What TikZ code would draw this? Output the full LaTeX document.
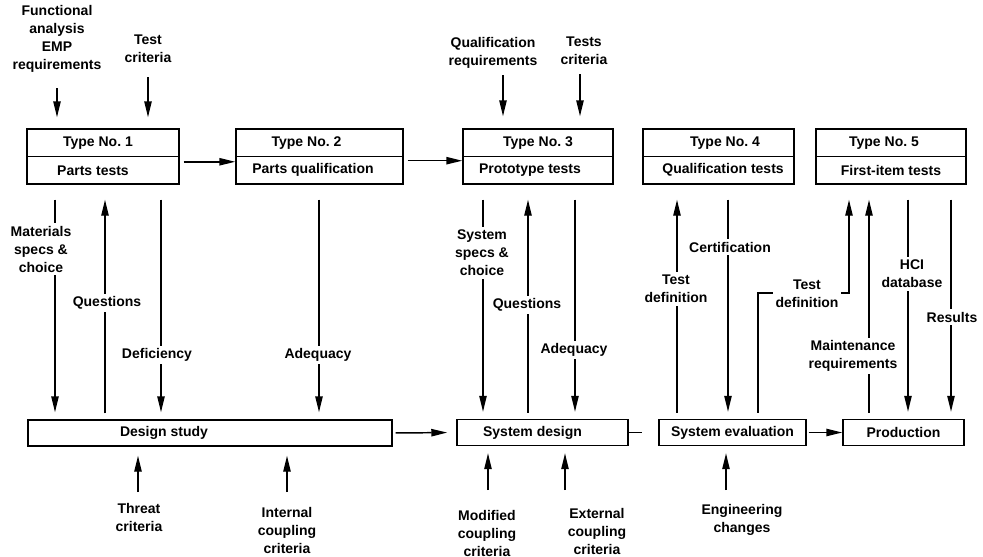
\documentclass[tikz,border=0pt]{standalone}
\usepackage{fontspec}
\setmainfont{Liberation Sans}
\usetikzlibrary{arrows.meta}
\begin{document}
\begin{tikzpicture}[x=0.75pt,y=-0.75pt,
  every node/.style={font=\bfseries\fontsize{10.5pt}{13.5pt}\selectfont, text=black},
  cell/.style={draw, line width=1.1pt, inner sep=0pt, minimum width=#1*0.75pt, minimum height=27.5*0.75pt},
  bcell/.style={draw, line width=1.1pt, inner sep=0pt, minimum width=#1*0.75pt, minimum height=26*0.75pt},
  lbl/.style={fill=white, align=center, inner sep=2pt},
  txt/.style={align=center, inner sep=1pt},
  conn/.style={line width=1.1pt},
  arr/.style={conn, -{Triangle[length=12pt,width=5.5pt]}},
  dn/.style={arr, shorten <=11.25pt, shorten >=5.25pt},
  up/.style={arr, shorten <=4.5pt, shorten >=11.25pt},
]
\useasboundingbox (0,0) rectangle (983,557);

% ---- top boxes ----
\node[cell=152, label={[xshift=-3.75pt]center:Type No.\ 1}] (t1h) at (103,142.75) {};
\node[cell=152, label={[xshift=-7.5pt]center:Parts tests}] (t1)  at (103,170.25) {};
\node[cell=167, label={[xshift=-9.75pt]center:Type No.\ 2}] (t2h) at (319.5,142.75) {};
\node[cell=167, label={[xshift=-4.9pt]center:Parts qualification}] (t2)  at (319.5,170.25) {};
\node[cell=150] (t3h) at (538,142.75) {Type No.\ 3};
\node[cell=150, label={[xshift=-6pt]center:Prototype tests}] (t3)  at (538,170.25) {};
\node[cell=151, label={[xshift=4.9pt]center:Type No.\ 4}] (t4h) at (718.5,142.75) {};
\node[cell=151, label={[xshift=3.4pt]center:Qualification tests}] (t4)  at (718.5,170.25) {};
\node[cell=150, label={[xshift=-5.25pt]center:Type No.\ 5}] (t5h) at (891,142.75) {};
\node[cell=150] (t5)  at (891,170.25) {First-item tests};

% ---- bottom boxes ----
\node[bcell=364, label={[xshift=-34.5pt]center:Design study}] (ds) at (210,433) {};
\node[bcell=171, label={[xshift=-7.5pt]center:System design}] (sd) at (542.5,432.5) {};
\node[bcell=147] (se) at (732.5,432.5) {System evaluation};
\node[bcell=121] (pr) at (903.5,432.5) {Production};

% ---- horizontal flow ----
\draw[arr, shorten <=3pt] ([yshift=-3.4pt]t1h.south east) -- ([yshift=-3.4pt]t2h.south west);
\draw[arr, shorten <=3pt] ([yshift=-2.6pt]t2h.south east) -- ([yshift=-2.6pt]t3h.south west);
\draw[arr, shorten <=2.25pt, shorten >=6.75pt] (ds.east) -- (sd.west);
\coordinate (sdx) at (642,432.5);
\draw[conn] (sd.east) -- (sdx);
\draw[arr, shorten <=1.5pt] (se.east) -- (pr.west);

% ---- column positions ----
\coordinate (c1) at (55,0);
\coordinate (c2) at (105,0);
\coordinate (c3) at (161,0);
\coordinate (c4) at (319,0);
\coordinate (c5) at (483,0);
\coordinate (c6) at (528,0);
\coordinate (c7) at (575,0);
\coordinate (c8) at (677,0);
\coordinate (c9) at (728,0);
\coordinate (c10) at (758,0);
\coordinate (c11) at (849,0);
\coordinate (c12) at (869,0);
\coordinate (c13) at (908,0);
\coordinate (c14) at (951,0);
\coordinate (tdk) at (0,293);

% ---- vertical connectors ----
\draw[dn] (t1.south -| c1) -- (ds.north -| c1);
\draw[up] (ds.north -| c2) -- (t1.south -| c2);
\draw[dn] (t1.south -| c3) -- (ds.north -| c3);
\draw[dn] (t2.south -| c4) -- (ds.north -| c4);
\draw[dn] (t3.south -| c5) -- (sd.north -| c5);
\draw[up] (sd.north -| c6) -- (t3.south -| c6);
\draw[dn] (t3.south -| c7) -- (sd.north -| c7);
\draw[up] (se.north -| c8) -- (t4.south -| c8);
\draw[dn] (t4.south -| c9) -- (se.north -| c9);
\draw[arr, shorten <=4.5pt, shorten >=11.25pt] (se.north -| c10) |- (c11 |- tdk) -- (t5.south -| c11);
\draw[up] (pr.north -| c12) -- (t5.south -| c12);
\draw[dn] (t5.south -| c13) -- (pr.north -| c13);
\draw[dn] (t5.south -| c14) -- (pr.north -| c14);

% ---- connector labels ----
\node[lbl] (lmat) at (41,249) {Materials\\specs \&\\choice};
\node[lbl] (lq1) at (107,303) {Questions};
\node[lbl] (ldef) at (157,355) {Deficiency};
\node[lbl] (lad1) at (318,355) {Adequacy};
\node[lbl] (lss) at (482,253) {System\\specs \&\\choice};
\node[lbl] (lq2) at (527,305) {Questions};
\node[lbl] (lad2) at (574,350) {Adequacy};
\node[lbl] (ltd1) at (676,289) {Test\\definition};
\node[lbl] (lcert) at (730,247) {Certification};
\node[lbl] (ltd2) at (807,294) {Test\\definition};
\node[lbl] (lmr) at (853,356) {Maintenance\\requirements};
\node[lbl] (lhci) at (912,274) {HCI\\database};
\node[lbl] (lres) at (952,317) {Results};

% ---- top inputs ----
\node[txt] (lfa) at (57,39) {Functional\\analysis\\EMP\\requirements};
\coordinate (fa0) at (57,88);
\draw[arr, shorten >=8.25pt] (fa0) -- (fa0 |- t1h.north);
\node[txt] (ltc1) at (148,49) {Test\\criteria};
\coordinate (tc1) at (148,77);
\draw[arr, shorten >=8.25pt] (tc1) -- (tc1 |- t1h.north);
\node[txt] (lqr) at (493,53) {Qualification\\requirements};
\coordinate (qr0) at (503,75);
\draw[arr, shorten >=9pt] (qr0) -- (qr0 |- t3h.north);
\node[txt] (ltc3) at (584,51) {Tests\\criteria};
\coordinate (tc3) at (580,74);
\draw[arr, shorten >=9pt] (tc3) -- (tc3 |- t3h.north);

% ---- bottom inputs ----
\node[txt] (lth) at (139,517) {Threat\\criteria};
\coordinate (th0) at (138,492);
\draw[arr, shorten >=6.75pt] (th0) -- (th0 |- ds.south);
\node[txt] (lic) at (287,530) {Internal\\coupling\\criteria};
\coordinate (ic0) at (287,492);
\draw[arr, shorten >=6.75pt] (ic0) -- (ic0 |- ds.south);
\node[txt] (lmc) at (487,533) {Modified\\coupling\\criteria};
\coordinate (mc0) at (488,490);
\draw[arr, shorten >=5.25pt] (mc0) -- (mc0 |- sd.south);
\node[txt] (lec) at (597,531) {External\\coupling\\criteria};
\coordinate (ec0) at (565,490);
\draw[arr, shorten >=5.25pt] (ec0) -- (ec0 |- sd.south);
\node[txt] (leng) at (742,520) {Engineering\\changes};
\coordinate (en0) at (726,490);
\draw[arr, shorten >=5.25pt] (en0) -- (en0 |- se.south);
\end{tikzpicture}
\end{document}
